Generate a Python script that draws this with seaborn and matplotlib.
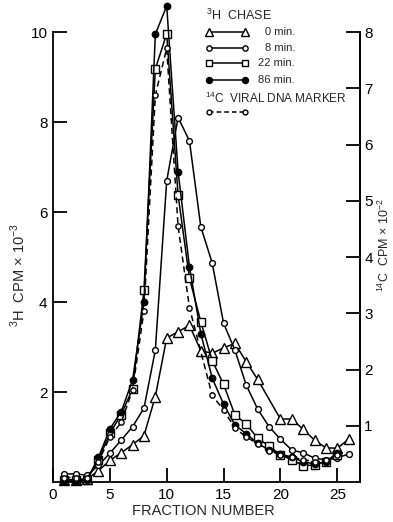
import matplotlib
matplotlib.use("Agg")
import matplotlib.pyplot as plt
from matplotlib.lines import Line2D
import seaborn as sns
import numpy as np

# ---- data ----
frac = list(range(1, 27))
chase_0 = [0.05, 0.05, 0.07, 0.25, 0.48, 0.65, 0.83, 1.03, 1.9, 3.2, 3.34, 3.48, 2.92,
           2.86, 2.98, 3.08, 2.67, 2.28, None, 1.40, 1.40, 1.17, 0.93, 0.76, 0.75, 0.95]
chase_8 = [0.18, 0.18, 0.15, 0.37, 0.64, 0.93, 1.23, 1.64, 2.93, 6.69, 8.1, 7.58, 5.67,
           4.87, 3.53, 2.93, 2.15, 1.62, 1.23, 0.95, 0.71, 0.65, 0.53, 0.49, 0.54, 0.62]
chase_22 = [0.05, 0.05, 0.05, 0.5, 1.08, 1.5, 2.07, 4.27, 9.18, 9.96, 6.38, 4.53, 3.56,
            2.7, 2.17, 1.49, 1.29, 0.97, 0.8, 0.6, 0.5, 0.36, 0.38, 0.45, 0.6, None]
chase_86 = [0.02, 0.02, 0.05, 0.55, 1.18, 1.56, 2.27, 4.0, 9.95, 10.58, 6.9, 4.78, 3.3,
            2.31, 1.73, 1.27, 1.07, 0.86, 0.71, 0.62, 0.55, 0.45, 0.4, 0.45, 0.65, None]
marker_frac = [1, 2, 3, 4, 5, 6, 7, 8, 9, 10, 11, 12, 14, 15, 16, 17, 18, 19, 20, 21, 22, 23, 24, 25]
marker_14c = [0.08, 0.08, 0.08, 0.36, 0.8, 1.06, 1.64, 3.04, 6.88, 7.71, 4.55, 3.1, 1.54,
              1.28, 0.96, 0.8, 0.68, 0.56, 0.48, 0.44, 0.4, 0.36, 0.4, 0.48]

left_ticks = [2, 4, 6, 8, 10]
right_ticks = [1, 2, 3, 4, 5, 6, 7, 8]
x_ticks = [0, 5, 10, 15, 20, 25]

sns.set_theme(style="ticks")
plt.rcParams['font.family'] = ['Liberation Sans', 'DejaVu Sans']
plt.rcParams['mathtext.fontset'] = 'custom'
plt.rcParams['mathtext.rm'] = 'Liberation Sans'

W, H = 393, 522
fig = plt.figure(figsize=(W / 100, H / 100), dpi=100)
ax = fig.add_axes([53 / W, 1 - 482 / H, 307 / W, 450 / H])
ax2 = ax.twinx()

def clean(xs, ys):
    pts = [(a, b) for a, b in zip(xs, ys) if b is not None]
    return [p[0] for p in pts], [p[1] for p in pts]

lw = 1.1
series = [
    (chase_0, dict(marker='^', markersize=7, markerfacecolor='white')),
    (chase_8, dict(marker='o', markersize=4.2, markerfacecolor='white')),
    (chase_22, dict(marker='s', markersize=5.3, markerfacecolor='white')),
    (chase_86, dict(marker='o', markersize=4.6, markerfacecolor='black')),
]
for ys, kw in series:
    xs, yv = clean(frac, ys)
    sns.lineplot(x=xs, y=yv, ax=ax, color='black', linewidth=lw,
                 markeredgecolor='black', markeredgewidth=1.0, clip_on=False,
                 estimator=None, sort=False, **kw)

sns.lineplot(x=marker_frac, y=marker_14c, ax=ax2, color='black', linewidth=lw,
             linestyle=(0, (4, 2.5)), marker='o', markersize=3.8,
             markerfacecolor='white', markeredgecolor='black', markeredgewidth=1.0,
             clip_on=False, estimator=None, sort=False)

ax.set_xlim(0, 27.0)
ax.set_ylim(0, 10)
ax2.set_ylim(0, 8)

for a in (ax, ax2):
    a.spines['top'].set_visible(False)
    for s in a.spines.values():
        s.set_linewidth(1.3)
        s.set_color('black')
    a.patch.set_visible(False)

ax.set_xticks(x_ticks)
ax.set_yticks(left_ticks)
ax2.set_yticks(right_ticks)
ax.tick_params(axis='both', direction='in', length=10, width=1.3, labelsize=11,
               colors='black', pad=4)
ax2.tick_params(axis='y', direction='in', length=10, width=1.3, labelsize=11,
                colors='black', pad=3)
ax2.spines['left'].set_visible(False)
ax2.spines['bottom'].set_visible(False)

ax.set_xlabel('FRACTION NUMBER', fontsize=10.5)
ax.set_ylabel('$^3$H  CPM × 10$^{-3}$', fontsize=10.5)
ax2.set_ylabel('$^{14}$C  CPM × 10$^{-2}$', fontsize=9, rotation=90)
ax.xaxis.set_label_coords(0.49, -0.064)
ax.yaxis.set_label_coords(-0.113, 0.46)
ax2.yaxis.set_label_coords(1.078, 0.527)
for lab in (ax.xaxis.label, ax.yaxis.label, ax2.yaxis.label):
    lab.set_va('center')
    lab.set_ha('center')
ax.grid(False)
ax2.grid(False)

# ---- legend (hand placed) ----
def fx(px):
    return px / W

def fy(py):
    return 1 - py / H

fig.text(fx(206), fy(15), '$^3$H  CHASE', fontsize=9, va='center', ha='left')
rows = [
    (32, dict(marker='^', markersize=6, markerfacecolor='white', linestyle='-'), '0 min.'),
    (48, dict(marker='o', markersize=3.8, markerfacecolor='white', linestyle='-'), '8 min.'),
    (63, dict(marker='s', markersize=4.8, markerfacecolor='white', linestyle='-'), '22 min.'),
    (80, dict(marker='o', markersize=4.3, markerfacecolor='black', linestyle='-'), '86 min.'),
]
for py, kw, lab in rows:
    fig.add_artist(Line2D([fx(209), fx(245)], [fy(py), fy(py)], transform=fig.transFigure,
                          color='black', linewidth=1.1, markeredgecolor='black',
                          markeredgewidth=1.0, **kw))
    fig.text(fx(295), fy(py), lab, fontsize=8, va='center', ha='right')
fig.text(fx(205), fy(98), '$^{14}$C  VIRAL DNA MARKER', fontsize=8.5, va='center', ha='left')
fig.add_artist(Line2D([fx(209), fx(245)], [fy(112), fy(112)], transform=fig.transFigure,
                      color='black', linewidth=1.1, linestyle=(0, (3, 2)), marker='o',
                      markersize=3.5, markerfacecolor='white', markeredgecolor='black',
                      markeredgewidth=1.0))

fig.savefig('out.png', dpi=100)
